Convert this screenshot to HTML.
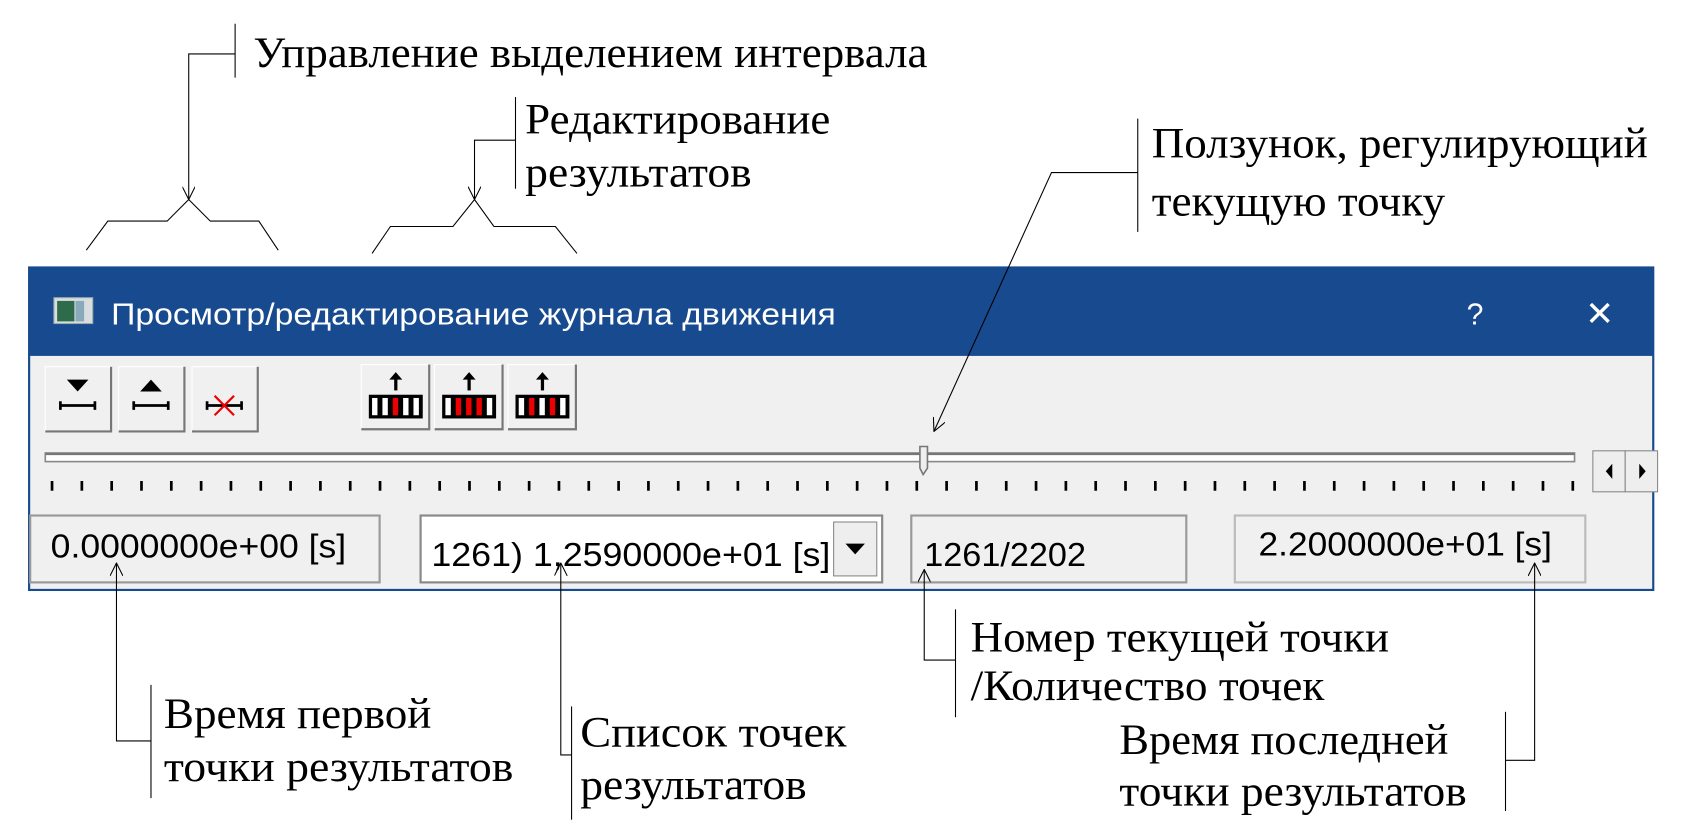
<!DOCTYPE html>
<html><head><meta charset="utf-8"><style>
html,body{margin:0;padding:0;background:#fff;}
svg{display:block;}
.s{font-family:"Liberation Serif","DejaVu Serif",serif;font-size:40px;fill:#000;}
.t{font-family:"Liberation Sans","DejaVu Sans",sans-serif;font-size:28px;fill:#fff;}
.f{font-family:"Liberation Sans","DejaVu Sans",sans-serif;font-size:31px;fill:#000;}
</style></head><body>
<svg id="sv" width="1691" height="838" viewBox="0 0 1568 777" preserveAspectRatio="none" xmlns="http://www.w3.org/2000/svg">
<defs>
<marker id="ar" viewBox="0 0 12 12" refX="12" refY="6" markerWidth="13" markerHeight="12" orient="auto" markerUnits="userSpaceOnUse">
<path d="M0,0 L12,6 L0,12" fill="none" stroke="#000" stroke-width="1"/>
</marker>
</defs>
<rect x="27" y="248" width="1506" height="299" fill="#f0f0f0"/>
<rect x="27" y="248" width="1506" height="82" fill="#174a8f"/>
<rect x="27" y="248" width="1506" height="299" fill="none" stroke="#174a8f" stroke-width="2"/>
<rect x="50" y="276" width="36" height="24" fill="#d8dde0" stroke="#9aa" stroke-width="1"/>
<rect x="53" y="279" width="16" height="19" fill="#2e6b4a"/>
<rect x="70" y="279" width="8" height="19" fill="#8ab"/>
<text class="t" x="103" y="301" textLength="672" lengthAdjust="spacingAndGlyphs">Просмотр/редактирование журнала движения</text>
<text class="t" x="1360" y="301">?</text>
<text class="t" x="1470" y="302" style="font-size:32px">✕</text>
<g id="btns"></g>
<rect x="42" y="420" width="1418" height="8" fill="#fff" stroke="#888" stroke-width="1.5"/>
<line x1="42" y1="421" x2="1460" y2="421" stroke="#777" stroke-width="2"/>
<path d="M853,414 h7 v20 l-4,6 l-3,-6 z" fill="#eee" stroke="#777" stroke-width="1.5"/>
<g id="ticks"></g>
<rect x="1477" y="418" width="30" height="38" fill="#eee" stroke="#888"/>
<rect x="1507" y="418" width="30" height="38" fill="#eee" stroke="#888"/>
<path d="M1495,430 l-6,7 l6,7z" fill="#000"/><path d="M1520,430 l6,7 l-6,7z" fill="#000"/>
<rect x="28" y="478" width="324" height="62" fill="#f0f0f0" stroke="#999" stroke-width="2"/>
<text class="f" x="47" y="517" textLength="274" lengthAdjust="spacingAndGlyphs">0.0000000e+00 [s]</text>
<rect x="390" y="478" width="428" height="62" fill="#fff" stroke="#888" stroke-width="2"/>
<text class="f" x="400" y="525" textLength="370" lengthAdjust="spacingAndGlyphs">1261)  1,2590000e+01 [s]</text>
<rect x="773" y="484" width="40" height="50" fill="#eee" stroke="#888"/>
<path d="M784,504 h18 l-9,10z" fill="#000"/>
<rect x="845" y="478" width="255" height="62" fill="#f0f0f0" stroke="#999" stroke-width="2"/>
<text class="f" x="857" y="525" textLength="150" lengthAdjust="spacingAndGlyphs">1261/2202</text>
<rect x="1145" y="478" width="325" height="62" fill="#f0f0f0" stroke="#bbb" stroke-width="2"/>
<text class="f" x="1167" y="515" textLength="272" lengthAdjust="spacingAndGlyphs">2.2000000e+01 [s]</text>

<g fill="none" stroke="#000" stroke-width="1">
<polyline points="218,22 218,72"/><polyline points="218,50 175,50 175,185" marker-end="url(#ar)"/>
<polyline points="80,232 100,205 155,205 175,185 195,205 240,205 258,232"/>
<polyline points="478,90 478,175"/><polyline points="478,130 440,130 440,185" marker-end="url(#ar)"/>
<polyline points="345,235 362,210 420,210 440,185 458,210 515,210 535,235"/>
<polyline points="1055,110 1055,215"/><polyline points="1055,160 975,160 866,400" marker-end="url(#ar)"/>
<polyline points="140,635 140,740"/><polyline points="140,687 108,687 108,522" marker-end="url(#ar)"/>
<polyline points="530,655 530,760"/><polyline points="530,700 520,700 520,522" marker-end="url(#ar)"/>
<polyline points="886,565 886,665"/><polyline points="886,612 857,612 857,528" marker-end="url(#ar)"/>
<polyline points="1396,660 1396,752"/><polyline points="1396,705 1423,705 1423,522" marker-end="url(#ar)"/>
</g>
<text class="s" x="235" y="62" textLength="625" lengthAdjust="spacingAndGlyphs">Управление выделением интервала</text>
<text class="s" x="487" y="124" textLength="283" lengthAdjust="spacingAndGlyphs">Редактирование</text>
<text class="s" x="487" y="173" textLength="210" lengthAdjust="spacingAndGlyphs">результатов</text>
<text class="s" x="1068" y="146" textLength="460" lengthAdjust="spacingAndGlyphs">Ползунок, регулирующий</text>
<text class="s" x="1068" y="200" textLength="272" lengthAdjust="spacingAndGlyphs">текущую точку</text>
<text class="s" x="152" y="675" textLength="248" lengthAdjust="spacingAndGlyphs">Время первой</text>
<text class="s" x="152" y="724" textLength="324" lengthAdjust="spacingAndGlyphs">точки результатов</text>
<text class="s" x="538" y="692" textLength="247" lengthAdjust="spacingAndGlyphs">Список  точек</text>
<text class="s" x="538" y="741" textLength="210" lengthAdjust="spacingAndGlyphs">результатов</text>
<text class="s" x="900" y="604" textLength="388" lengthAdjust="spacingAndGlyphs">Номер текущей точки</text>
<text class="s" x="900" y="649" textLength="328" lengthAdjust="spacingAndGlyphs">/Количество точек</text>
<text class="s" x="1038" y="699" textLength="305" lengthAdjust="spacingAndGlyphs">Время последней</text>
<text class="s" x="1038" y="747" textLength="322" lengthAdjust="spacingAndGlyphs">точки результатов</text>
</svg>
<script>
var NS="http://www.w3.org/2000/svg";
function el(p,n,a){var e=document.createElementNS(NS,n);for(var k in a)e.setAttribute(k,a[k]);p.appendChild(e);return e;}
var t=document.getElementById('ticks');
for(var i=0;i<52;i++){var x=47+i*27.65;el(t,'rect',{x:x,y:446,width:2.5,height:9,fill:'#000'});}
var b=document.getElementById('btns');
function btn(x,y,w,h){el(b,'rect',{x:x,y:y,width:w,height:h,fill:'#f0f0f0',stroke:'#fff','stroke-width':1});
el(b,'path',{d:'M'+(x+w)+','+y+' v'+h+' h'+(-w),fill:'none',stroke:'#777','stroke-width':2});}
[[42,1],[110,2],[178,3]].forEach(function(q){var x=q[0];btn(x,340,61,60);var cx=x+30;
 if(q[1]==1){el(b,'path',{d:'M'+(cx-10)+',352 h20 l-10,11z',fill:'#000'});}
 if(q[1]==2){el(b,'path',{d:'M'+(cx-10)+',363 h20 l-10,-11z',fill:'#000'});}
 el(b,'path',{d:'M'+(cx-16)+',376 h32 M'+(cx-16)+',372 v8 M'+(cx+16)+',372 v8',stroke:'#000','stroke-width':2.5,fill:'none'});
 if(q[1]==3){el(b,'path',{d:'M'+(cx-9)+',367 l18,18 M'+(cx+9)+',367 l-18,18',stroke:'#e00','stroke-width':2,fill:'none'});}
});
[[335,[2]],[403,[1,2,3]],[471,[1,3]]].forEach(function(q){var x=q[0];btn(x,338,63,60);var cx=x+32;
 el(b,'path',{d:'M'+cx+',362 v-12',stroke:'#000','stroke-width':3});
 el(b,'path',{d:'M'+(cx-6)+',352 l6,-7 l6,7z',fill:'#000'});
 el(b,'rect',{x:cx-25,y:366,width:50,height:22,fill:'#000'});
 for(var i=0;i<5;i++){el(b,'rect',{x:cx-22+i*9.6,y:369,width:5,height:16,fill:q[1].indexOf(i)>=0?'#e00':'#fff'});}
});
</script>
</body></html>
